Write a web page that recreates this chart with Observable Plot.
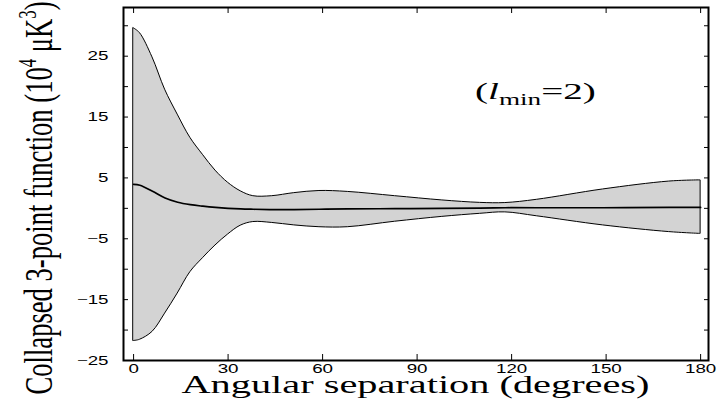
<!DOCTYPE html>
<html><head><meta charset="utf-8">
<script src="https://cdn.jsdelivr.net/npm/d3@7"></script>
<script src="https://cdn.jsdelivr.net/npm/@observablehq/plot@0.6"></script>
<style>body{margin:0;background:#fff;} svg{display:block}</style>
</head><body>
<script>
// Angular separation (degrees)
const angle  = [0, 2, 6, 10, 14, 18, 22, 26, 30, 34, 38, 44, 51, 59, 68, 83, 98, 110, 118, 128, 149, 170, 180];
// upper edge of the band (10^4 uK^3)
const upper  = [29.6, 28.8, 24.8, 19.5, 15.4, 11.6, 8.8, 6.2, 4.2, 2.8, 2.0, 2.0, 2.5, 2.85, 2.7, 2.0, 1.3, 0.9, 0.87, 1.4, 3.1, 4.4, 4.6];
// lower edge of the band
const lower  = [-21.8, -21.6, -20.3, -17.3, -14.0, -10.5, -8.2, -6.1, -4.3, -2.85, -2.25, -2.4, -2.8, -3.1, -3.1, -2.2, -1.4, -0.9, -0.66, -1.3, -2.8, -3.9, -4.2];
// central curve
const center = [3.95, 3.8, 2.8, 1.7, 1.0, 0.6, 0.35, 0.15, 0.0, -0.1, -0.15, -0.2, -0.2, -0.15, -0.1, -0.05, 0.0, 0.05, 0.1, 0.1, 0.1, 0.15, 0.15];

const xTicks = [0, 30, 60, 90, 120, 150, 180];
const yTickLabels = [25, 15, 5, -5, -15, -25];
const yTicks = [-25, -20, -15, -10, -5, 0, 5, 10, 15, 20, 25, 30];

const band = angle.map((a, i) => ({a, lo: lower[i], hi: upper[i], c: center[i]}));

const svg = Plot.plot({
  width: 717, height: 400,
  marginLeft: 123, marginRight: 9, marginTop: 7, marginBottom: 40,
  style: {fontFamily: "'Liberation Sans', Arial, sans-serif", fontSize: "12.5px", color: "black", background: "white"},
  x: {domain: [-3.2, 182.5]},
  y: {domain: [-25, 33]},
  marks: [
    Plot.areaY(band, {x: "a", y1: "lo", y2: "hi", curve: "catmull-rom", fill: "#d3d3d3", stroke: "black", strokeWidth: 1}),
    Plot.lineY(band, {x: "a", y: "c", curve: "catmull-rom", stroke: "black", strokeWidth: 1.7}),
    Plot.axisX({anchor: "bottom", ticks: xTicks, tickSize: -6, tickFormat: () => "", label: null}),
    Plot.axisX({anchor: "top", ticks: xTicks, tickSize: -5, tickFormat: () => "", label: null}),
    Plot.axisX({anchor: "bottom", ticks: xTicks, tickSize: 0, tickPadding: 4, label: null}),
    Plot.axisY({anchor: "left", ticks: yTicks, tickSize: -5, tickFormat: () => "", label: null}),
    Plot.axisY({anchor: "right", ticks: yTicks, tickSize: -5, tickFormat: () => "", label: null}),
    Plot.axisY({anchor: "left", ticks: yTickLabels, tickSize: 0, tickPadding: 15, label: null}),
    Plot.frame({stroke: "black", strokeWidth: 2})
  ]
});
document.body.appendChild(svg);

// horizontally stretched tick labels, as in the reference
const S = 1.5;
d3.select(svg).selectAll("text").each(function() {
  if (!this.textContent) return;
  const w = this.getComputedTextLength();
  this.setAttribute("textLength", (w * S).toFixed(1));
  this.setAttribute("lengthAdjust", "spacingAndGlyphs");
});

const sel = d3.select(svg);
const serif = "'Liberation Serif', 'Times New Roman', serif";
// x title
sel.append("text")
  .attr("x", 415.5).attr("y", 393)
  .attr("text-anchor", "middle")
  .attr("font-family", serif)
  .attr("font-size", 25)
  .attr("textLength", 468).attr("lengthAdjust", "spacingAndGlyphs")
  .text("Angular separation (degrees)");

// y title
const yt = sel.append("text")
  .attr("transform", "translate(52,198) scale(1.45,1) rotate(-90)")
  .attr("text-anchor", "middle")
  .attr("font-family", serif)
  .attr("font-size", 27)
  .attr("textLength", 393).attr("lengthAdjust", "spacingAndGlyphs");
yt.append("tspan").text("Collapsed 3-point function (10");
yt.append("tspan").attr("font-size", 17).attr("dy", -11).text("4");
yt.append("tspan").attr("dy", 11).text(" \u03bcK");
yt.append("tspan").attr("font-size", 17).attr("dy", -11).text("3");
yt.append("tspan").attr("dy", 11).text(")");

// annotation
const an = sel.append("text")
  .attr("transform", "translate(475,99) scale(1.7,1)")
  .attr("text-anchor", "start")
  .attr("font-family", serif)
  .attr("font-size", 23);
an.append("tspan").text("(");
an.append("tspan").attr("font-style", "italic").text("l");
an.append("tspan").attr("font-size", 16).attr("dy", 6).text("min");
an.append("tspan").attr("dy", -6).text("=2)");
</script>
</body></html>
